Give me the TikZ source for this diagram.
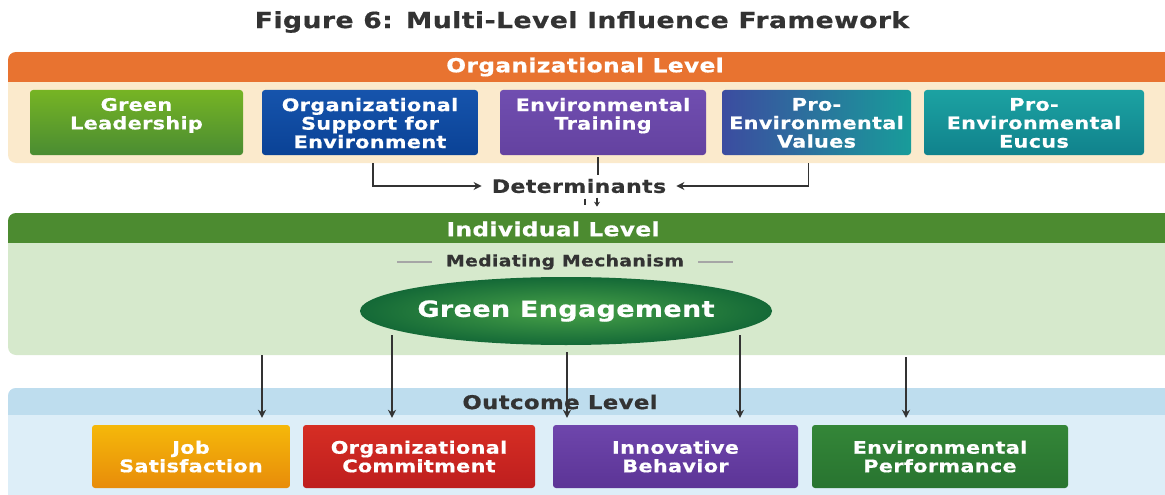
\documentclass[tikz,border=0pt]{standalone}
\usepackage{fontspec}
\setmainfont[FakeStretch=1.2,LetterSpace=2,FakeBold=0.6]{DejaVu Sans}
\usetikzlibrary{arrows.meta,shapes.geometric}
\definecolor{OrgOrange}{RGB}{232,115,48}
\definecolor{OrgBeige}{RGB}{251,234,204}
\definecolor{IndGreen}{RGB}{76,139,48}
\definecolor{IndPale}{RGB}{214,233,204}
\definecolor{OutBlue}{RGB}{190,221,238}
\definecolor{OutPale}{RGB}{221,238,248}
\definecolor{InkGray}{RGB}{51,51,51}
\definecolor{LeadA}{RGB}{118,180,36}
\definecolor{LeadB}{RGB}{74,140,50}
\definecolor{SuppA}{RGB}{22,84,172}
\definecolor{SuppB}{RGB}{10,66,150}
\definecolor{TrainA}{RGB}{112,78,176}
\definecolor{TrainB}{RGB}{100,66,160}
\definecolor{ValsA}{RGB}{60,76,160}
\definecolor{ValsB}{RGB}{24,156,154}
\definecolor{EucA}{RGB}{28,162,162}
\definecolor{EucB}{RGB}{16,130,140}
\definecolor{JobA}{RGB}{245,184,10}
\definecolor{JobB}{RGB}{232,140,10}
\definecolor{CommA}{RGB}{214,46,36}
\definecolor{CommB}{RGB}{190,30,30}
\definecolor{InnA}{RGB}{110,70,172}
\definecolor{InnB}{RGB}{92,52,150}
\definecolor{PerfA}{RGB}{52,134,56}
\definecolor{PerfB}{RGB}{40,116,48}
\definecolor{EngIn}{RGB}{72,162,72}
\definecolor{EngOut}{RGB}{20,105,55}

\begin{document}
\begin{tikzpicture}[x=1pt,y=-1pt,
  box/.style={rectangle,rounded corners=3,minimum height=65,inner sep=0},
  boxtext/.style={font=\bfseries\fontsize{17.3}{18.5}\selectfont,text=white,align=center,inner sep=0},
  head/.style={font=\bfseries\fontsize{19.4}{24}\selectfont},
  conn/.style={InkGray,line width=1.8},
  down/.style={conn,-{Stealth[length=8,width=8]},shorten >=7}]
\useasboundingbox (0,0) rectangle (1165,495);
\clip (0,0) rectangle (1165,495);
\node[head,text=InkGray,font=\bfseries\fontsize{22.2}{26}\selectfont] (title) at (582,22) {Figure 6: Multi-Level Influence Framework};
% three level panels
\begin{scope}
  \clip[rounded corners=8] (8,52) rectangle (1180,163);
  \fill[OrgBeige] (0,0) rectangle (1165,495);
  \fill[OrgOrange] (0,52) rectangle (1165,82);
\end{scope}
\begin{scope}
  \clip[rounded corners=8] (8,213) rectangle (1180,355);
  \fill[IndPale] (0,0) rectangle (1165,495);
  \fill[IndGreen] (0,213) rectangle (1165,243);
\end{scope}
\begin{scope}
  \clip[rounded corners=8] (8,388) rectangle (1180,520);
  \fill[OutPale] (0,0) rectangle (1165,495);
  \fill[OutBlue] (0,388) rectangle (1165,415);
\end{scope}
\node[head,text=white] (orghd) at (585,67) {Organizational Level};
\node[head,text=white] (indhd) at (553,229) {Individual Level};
\node[head,text=InkGray,font=\bfseries\fontsize{19}{24}\selectfont] (outhd) at (560,402) {Outcome Level};
% determinants
\foreach \n/\x/\w/\a/\b/\g/\t in {
  lead/136.5/213/LeadA/LeadB/0/{Green\\Leadership},
  supp/370/216/SuppA/SuppB/0/{Organizational\\Support for\\Environment},
  train/603/206/TrainA/TrainB/0/{Environmental\\Training},
  vals/816.5/189/ValsA/ValsB/90/{Pro-\\Environmental\\Values},
  eucus/1034/220/EucA/EucB/0/{Pro-\\Environmental\\Eucus}}{
  \node[box,minimum width=\w,top color=\a,bottom color=\b,shading angle=\g] (\n) at (\x,122.5) {};
  \node[boxtext,anchor=north] (\n-t) at ([yshift=-8]\n.north) {\t};
}
\node[head,text=InkGray,font=\bfseries\fontsize{18.4}{22}\selectfont,inner xsep=10] (det) at (579,186) {Determinants};
\draw[conn,-{Stealth[length=8,width=8]}] ([xshift=3,yshift=-8]supp.south) |- (det.west);
\draw[conn,-{Stealth[length=8,width=8]}] ([xshift=-8,yshift=-8]vals.south) |- (det.east);
\draw[conn] ([xshift=-5,yshift=-2]train.south) -- ++(0,18);
\draw[conn,line width=1.2] ([xshift=6,yshift=-2]det.south) -- ++(0,6);
\draw[conn,line width=1.2,-{Stealth[length=5,width=6]}] ([xshift=18,yshift=-1]det.south) -- ++(0,9);
% mediator
\node[font=\bfseries\fontsize{15.7}{19}\selectfont,text=InkGray,inner xsep=14] (med) at (565,262) {Mediating Mechanism};
\draw[gray!70,line width=1.2] (med.west) -- ++(-35,0);
\draw[gray!70,line width=1.2] (med.east) -- ++(35,0);
\node[ellipse,minimum width=412,minimum height=68,inner sep=0,inner color=EngIn,outer color=EngOut,
  label={[text=white,font=\bfseries\fontsize{22.4}{28}\selectfont]center:Green Engagement}] (eng) at (566,311) {};
% outcomes
\foreach \n/\x/\w/\a/\b/\t in {
  job/191/198/JobA/JobB/{Job\\Satisfaction},
  comm/419/232/CommA/CommB/{Organizational\\Commitment},
  innov/675.5/245/InnA/InnB/{Innovative\\Behavior},
  perf/940/256/PerfA/PerfB/{Environmental\\Performance}}{
  \node[box,boxtext,minimum width=\w,minimum height=63,top color=\a,bottom color=\b] (\n) at (\x,456.5) {\t};
}
\foreach \x/\y/\b in {262/355/job,392/335/comm,567/352/innov,740/335/innov,906/357/perf}{
  \coordinate (a\x) at (\x,\y);
  \draw[down] (a\x) -- (a\x |- \b.north);
}
\end{tikzpicture}
\end{document}
